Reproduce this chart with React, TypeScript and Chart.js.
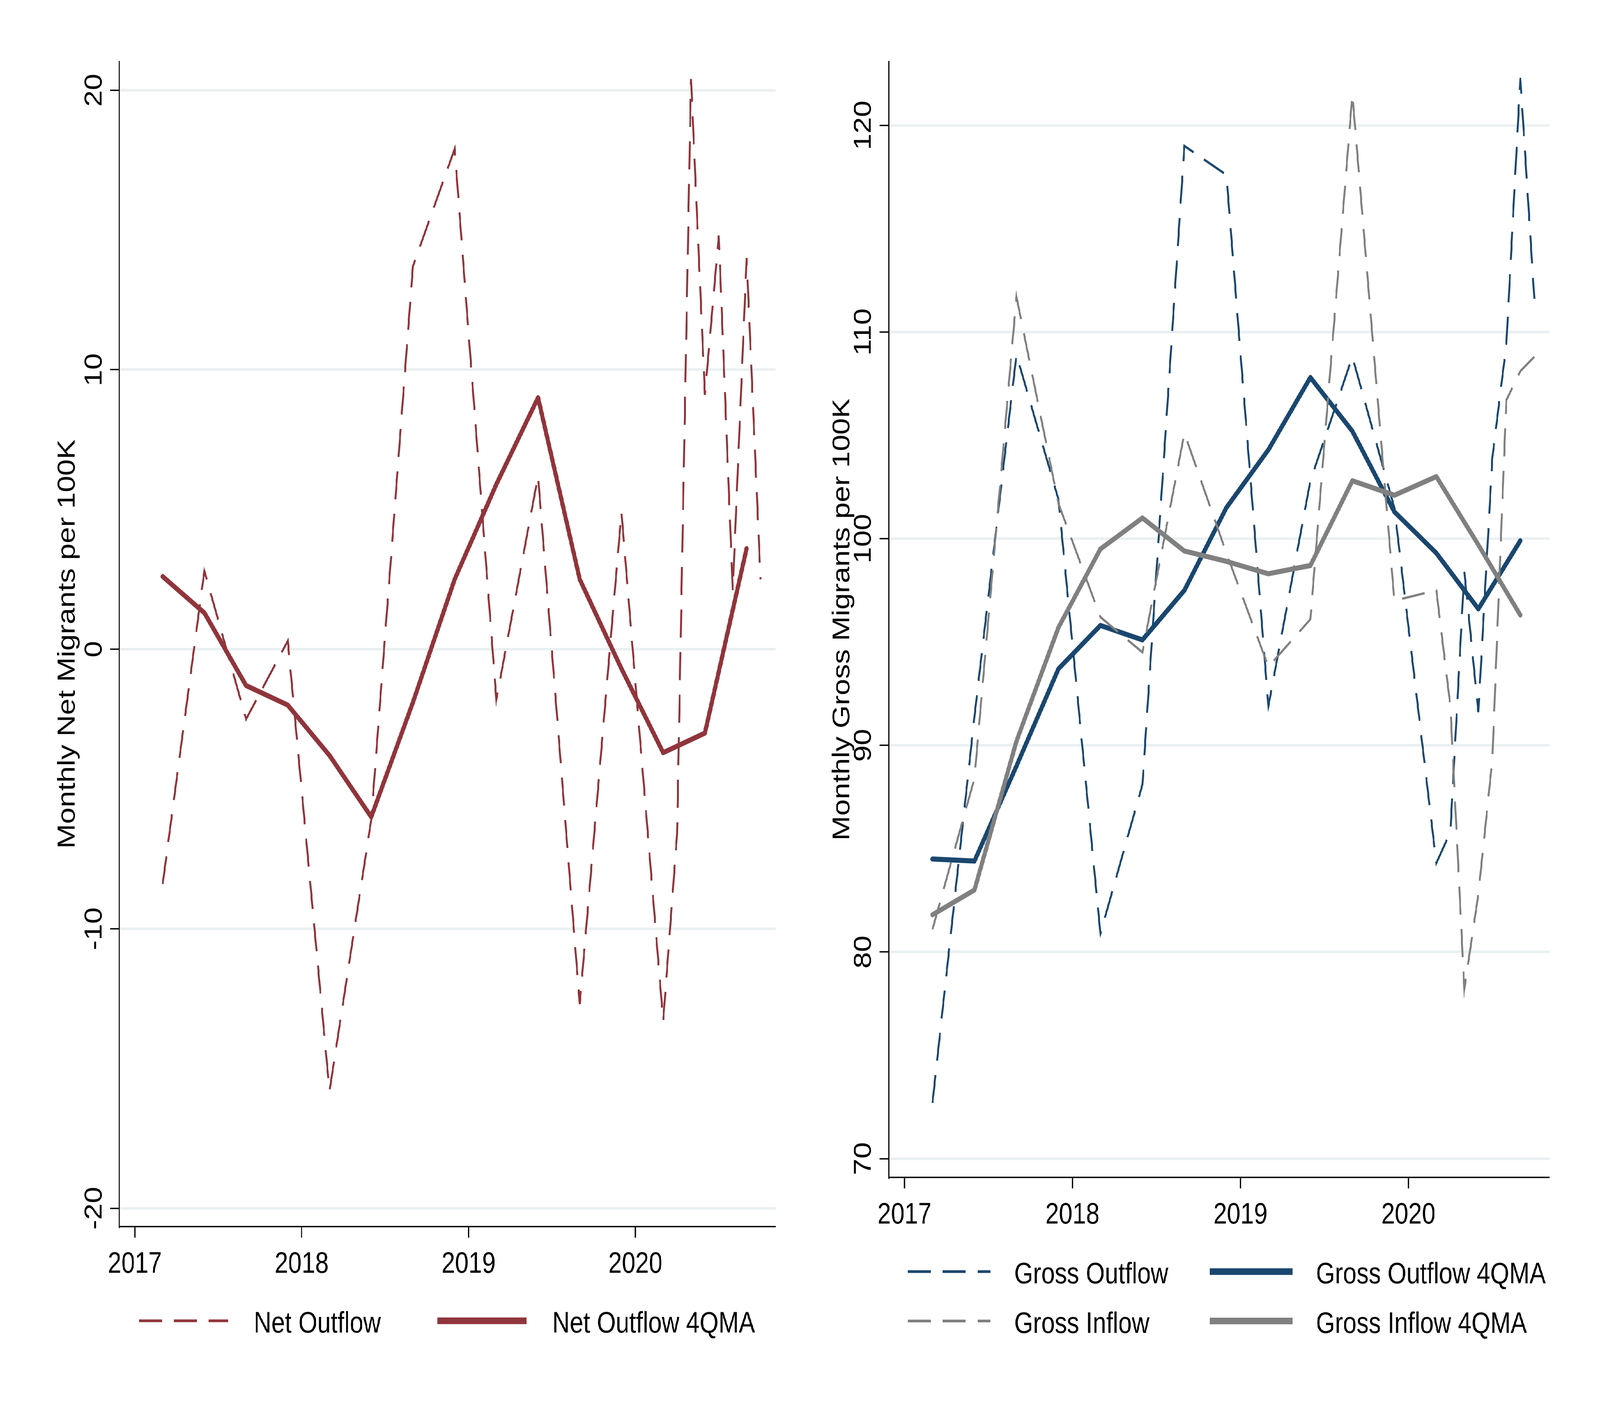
import React, { useEffect, useRef, useState } from 'react';
import { Chart, registerables } from 'chart.js';

Chart.register(...registerables);

// ---------------- data ----------------
const seriesMonths: string[] = [
  '2017-03', '2017-06', '2017-09', '2017-12',
  '2018-03', '2018-06', '2018-09', '2018-12',
  '2019-03', '2019-06', '2019-09', '2019-12',
  '2020-03', '2020-04', '2020-05', '2020-06', '2020-07', '2020-08', '2020-09', '2020-10',
];
const maMonths: string[] = [
  '2017-03', '2017-06', '2017-09', '2017-12',
  '2018-03', '2018-06', '2018-09', '2018-12',
  '2019-03', '2019-06', '2019-09', '2019-12',
  '2020-03', '2020-06', '2020-09',
];

const netOutflow: number[] = [-8.4, 2.8, -2.5, 0.3, -15.8, -6.1, 13.7, 17.9, -1.8, 6.2, -12.7, 4.9, -13.3, -6.6, 20.4, 9.1, 14.8, 2.1, 14.0, 2.5];
const netOutflowMA: number[] = [2.6, 1.3, -1.3, -2.0, -3.8, -6.0, -1.9, 2.5, 5.9, 9.0, 2.5, -0.7, -3.7, -3.0, 3.6];

const grossOutflow: number[] = [72.7, 91.4, 108.9, 101.9, 80.9, 88.1, 119.0, 117.6, 91.9, 102.8, 108.8, 101.5, 84.3, 85.8, 98.4, 91.6, 103.9, 109.4, 122.3, 111.6];
const grossInflow: number[] = [81.1, 88.4, 111.7, 101.7, 96.2, 94.5, 105.1, 99.3, 93.8, 96.1, 121.5, 97.0, 97.5, 91.9, 78.2, 82.8, 89.3, 106.7, 108.1, 108.8];
const grossOutflowMA: number[] = [84.5, 84.4, 89.0, 93.7, 95.8, 95.1, 97.5, 101.5, 104.3, 107.8, 105.2, 101.3, 99.3, 96.6, 99.9];
const grossInflowMA: number[] = [81.8, 83.0, 90.2, 95.7, 99.5, 101.0, 99.4, 98.9, 98.3, 98.7, 102.8, 102.1, 103.0, 99.7, 96.3];

const xTicks: number[] = [2017, 2018, 2019, 2020];
const xTickLabels: string[] = ['2017', '2018', '2019', '2020'];
const netTicks: number[] = [-20, -10, 0, 10, 20];
const netTickLabels: string[] = ['-20', '-10', '0', '10', '20'];
const grossTicks: number[] = [70, 80, 90, 100, 110, 120];
const grossTickLabels: string[] = ['70', '80', '90', '100', '110', '120'];

// ---------------- styles ----------------
const FIG_W = 5000;
const FIG_H = 3636;
const MAROON = '#90353b';
const NAVY = '#1a476f';
const GRAY = '#808080';
const GRID = '#e9f0f1';
const FONT = '76px "Liberation Sans", Arial, Helvetica, sans-serif';
const DASH = [72, 37];
const X_MIN = 2016.907;
const X_MAX = 2020.84;

const toYear = (s: string) => {
  const [y, m] = s.split('-').map(Number);
  return y + (m - 1) / 12;
};
const pts = (months: string[], vals: number[]) => months.map((m, i) => ({ x: toYear(m), y: vals[i] }));

type LegendItem = { index: number; x1: number; x2: number; y: number; tx: number; dashed: boolean };
type PanelSpec = {
  left: number;
  pad: { left: number; right: number; top: number; bottom: number };
  yMin: number;
  yMax: number;
  yTicks: number[];
  yTickLabels: string[];
  title: string;
  titleX: number;
  datasets: any[];
  legend: LegendItem[];
};

const dashedDs = (label: string, data: any[], color: string, order: number) => ({
  label, data, borderColor: color, backgroundColor: color, borderWidth: 6, borderDash: DASH,
  borderCapStyle: 'butt', borderJoinStyle: 'miter', pointRadius: 0, tension: 0, fill: false, order,
});
const solidDs = (label: string, data: any[], color: string, order: number) => ({
  label, data, borderColor: color, backgroundColor: color, borderWidth: 13,
  borderCapStyle: 'round', borderJoinStyle: 'round', pointRadius: 0, tension: 0, fill: false, order,
});

const netPanel: PanelSpec = {
  left: 0,
  pad: { left: 373, right: 76.5, top: 157.3, bottom: 3636 - 3141 },
  yMin: -20.66,
  yMax: 21.03,
  yTicks: netTicks,
  yTickLabels: netTickLabels,
  title: 'Monthly Net Migrants per 100K',
  titleX: 233,
  datasets: [
    dashedDs('Net Outflow', pts(seriesMonths, netOutflow), MAROON, 2),
    solidDs('Net Outflow 4QMA', pts(maMonths, netOutflowMA), MAROON, 1),
  ],
  legend: [
    { index: 0, x1: 434, x2: 713, y: 3382, tx: 793, dashed: true },
    { index: 1, x1: 1366.6, x2: 1645.8, y: 3382, tx: 1725.8, dashed: false },
  ],
};

const grossPanel: PanelSpec = {
  left: 2500,
  pad: { left: 277.7, right: 158, top: 157.3, bottom: 3636 - 3015 },
  yMin: 69.09,
  yMax: 123.09,
  yTicks: grossTicks,
  yTickLabels: grossTickLabels,
  title: 'Monthly Gross Migrants per 100K',
  titleX: 154,
  datasets: [
    dashedDs('Gross Outflow', pts(seriesMonths, grossOutflow), NAVY, 4),
    solidDs('Gross Outflow 4QMA', pts(maMonths, grossOutflowMA), NAVY, 3),
    dashedDs('Gross Inflow', pts(seriesMonths, grossInflow), GRAY, 2),
    solidDs('Gross Inflow 4QMA', pts(maMonths, grossInflowMA), GRAY, 1),
  ],
  legend: [
    { index: 0, x1: 337, x2: 595.5, y: 3256, tx: 669.5, dashed: true },
    { index: 1, x1: 1280.4, x2: 1539, y: 3256, tx: 1612.5, dashed: false },
    { index: 2, x1: 337, x2: 595.5, y: 3382.5, tx: 669.5, dashed: true },
    { index: 3, x1: 1280.4, x2: 1539, y: 3382.5, tx: 1612.5, dashed: false },
  ],
};

const makeDecor = (p: PanelSpec) => ({
  id: 'stataDecor',
  afterDraw(chart: any) {
    const ctx: CanvasRenderingContext2D = chart.ctx;
    const { left, top, bottom } = chart.chartArea;
    const xs = chart.scales.x;
    const ys = chart.scales.y;
    ctx.save();
    ctx.fillStyle = '#000';
    ctx.font = FONT;
    ctx.textAlign = 'center';
    ctx.textBaseline = 'alphabetic';
    // y tick labels (rotated)
    p.yTicks.forEach((v, i) => {
      const py = ys.getPixelForValue(v);
      ctx.save();
      ctx.translate(left - 56.5, py);
      ctx.rotate(-Math.PI / 2);
      ctx.fillText(p.yTickLabels[i], 0, 0);
      ctx.restore();
    });
    // x tick labels
    xTicks.forEach((v, i) => {
      ctx.fillText(xTickLabels[i], xs.getPixelForValue(v), bottom + 118);
    });
    // y title
    ctx.save();
    ctx.translate(p.titleX, (top + bottom) / 2);
    ctx.rotate(-Math.PI / 2);
    ctx.fillText(p.title, 0, 0);
    ctx.restore();
    // legend
    p.legend.forEach((item) => {
      const ds = chart.data.datasets[item.index];
      ctx.save();
      ctx.strokeStyle = ds.borderColor;
      ctx.lineWidth = item.dashed ? 7 : 17;
      ctx.setLineDash(item.dashed ? DASH : []);
      ctx.lineCap = 'butt';
      ctx.beginPath();
      ctx.moveTo(item.x1, item.y);
      ctx.lineTo(item.x2, item.y);
      ctx.stroke();
      ctx.restore();
      ctx.textAlign = 'left';
      ctx.fillText(ds.label, item.tx, item.y + 30);
    });
    ctx.restore();
  },
});

function Panel({ spec }: { spec: PanelSpec }) {
  const ref = useRef<HTMLCanvasElement | null>(null);
  useEffect(() => {
    if (!ref.current) return;
    const chart = new Chart(ref.current, {
      type: 'line',
      data: { datasets: spec.datasets },
      options: {
        animation: false,
        responsive: false,
        devicePixelRatio: 1,
        layout: { padding: spec.pad },
        plugins: { legend: { display: false }, tooltip: { enabled: false } },
        scales: {
          x: {
            type: 'linear',
            position: 'bottom',
            min: X_MIN,
            max: X_MAX,
            afterBuildTicks: (s: any) => { s.ticks = xTicks.map((v) => ({ value: v })); },
            afterFit: (s: any) => { s.height = 0; },
            ticks: { display: false },
            grid: { display: true, drawOnChartArea: false, drawTicks: true, tickLength: 28, tickColor: '#000', tickWidth: 3.5 },
            border: { display: true, color: '#000', width: 3.5 },
          },
          y: {
            type: 'linear',
            position: 'left',
            min: spec.yMin,
            max: spec.yMax,
            afterBuildTicks: (s: any) => { s.ticks = spec.yTicks.map((v) => ({ value: v })); },
            afterFit: (s: any) => { s.width = 0; },
            ticks: { display: false },
            grid: { display: true, color: GRID, lineWidth: 6.5, drawTicks: true, tickLength: 29, tickColor: '#000', tickWidth: 3.5 },
            border: { display: true, color: '#000', width: 3.5 },
          },
        },
      } as any,
      plugins: [makeDecor(spec)],
    });
    return () => chart.destroy();
  }, [spec]);
  return (
    <canvas
      ref={ref}
      width={2500}
      height={FIG_H}
      style={{ position: 'absolute', left: spec.left, top: 0, width: 2500, height: FIG_H }}
    />
  );
}

export default function App() {
  // Fit the 5000x3636 figure into whatever viewport the browser actually gives.
  const [scale] = useState(() => {
    const w = typeof window !== 'undefined' && window.innerWidth ? window.innerWidth : FIG_W;
    const h = typeof window !== 'undefined' && window.innerHeight ? window.innerHeight : FIG_H;
    return { sx: w / FIG_W, sy: h / FIG_H };
  });
  return (
    <div style={{ position: 'fixed', left: 0, top: 0, width: '100vw', height: '100vh', overflow: 'hidden', background: '#fff' }}>
      <div
        style={{
          position: 'absolute', left: 0, top: 0, width: FIG_W, height: FIG_H, background: '#fff',
          transform: `scale(${scale.sx}, ${scale.sy})`, transformOrigin: '0 0',
        }}
      >
        <Panel spec={netPanel} />
        <Panel spec={grossPanel} />
      </div>
    </div>
  );
}
